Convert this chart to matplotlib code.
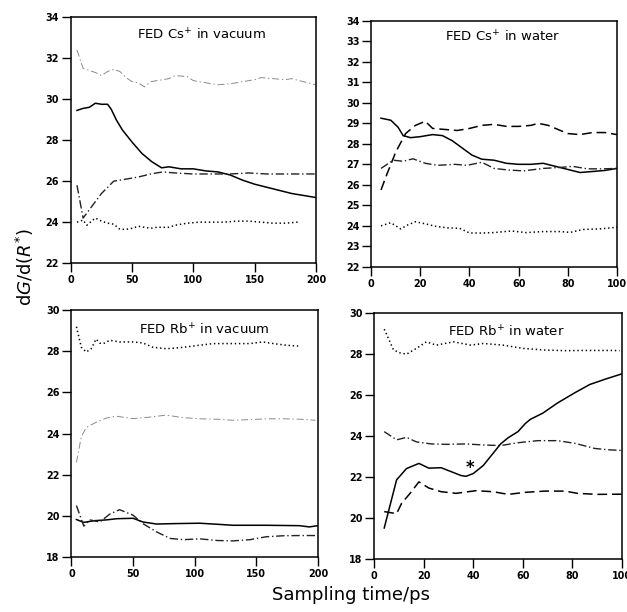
import matplotlib
matplotlib.use("Agg")
import matplotlib.pyplot as plt

plt.rcParams['font.family'] = ['DejaVu Sans']
plt.rcParams['lines.scale_dashes'] = False

# --- FED Cs+ in vacuum ---
cs_vac_solid_x = [5, 10, 15, 20, 25, 30, 33, 37, 42, 50, 58, 66, 74, 80, 90, 100, 110, 120, 130, 140, 150, 160, 170, 180, 190, 200]
cs_vac_solid_y = [29.45, 29.55, 29.6, 29.8, 29.75, 29.75, 29.5, 29.0, 28.5, 27.9, 27.35, 26.95, 26.65, 26.7, 26.6, 26.6, 26.5, 26.45, 26.3, 26.05, 25.85, 25.7, 25.55, 25.4, 25.3, 25.2]
cs_vac_dd_x = [5, 10, 15, 20, 25, 30, 35, 45, 55, 65, 75, 85, 100, 115, 130, 145, 160, 175, 190, 200]
cs_vac_dd_y = [25.8, 24.2, 24.6, 25.0, 25.4, 25.7, 26.0, 26.1, 26.2, 26.35, 26.45, 26.4, 26.35, 26.35, 26.35, 26.4, 26.35, 26.35, 26.35, 26.35]
cs_vac_grey_x = [5, 10, 15, 20, 25, 30, 35, 40, 45, 50, 55, 60, 65, 70, 80, 85, 95, 100, 110, 120, 130, 140, 150, 155, 165, 175, 180, 190, 200]
cs_vac_grey_y = [32.4, 31.5, 31.4, 31.3, 31.15, 31.35, 31.45, 31.35, 31.05, 30.85, 30.8, 30.6, 30.85, 30.9, 31.0, 31.15, 31.1, 30.9, 30.8, 30.7, 30.75, 30.85, 30.95, 31.05, 31.0, 30.95, 31.0, 30.85, 30.7]
cs_vac_dot_x = [5, 10, 13, 20, 25, 30, 35, 40, 45, 50, 55, 60, 65, 70, 80, 85, 95, 105, 115, 125, 135, 145, 155, 165, 175, 185]
cs_vac_dot_y = [24.0, 24.1, 23.85, 24.2, 24.05, 23.95, 23.9, 23.65, 23.65, 23.7, 23.8, 23.75, 23.7, 23.75, 23.75, 23.85, 23.95, 24.0, 24.0, 24.0, 24.05, 24.05, 24.0, 23.95, 23.95, 24.0]

# --- FED Cs+ in water ---
cs_wat_solid_x = [4, 8, 11, 13, 16, 20, 25, 29, 33, 37, 41, 45, 50, 55, 60, 65, 70, 75, 80, 85, 90, 95, 100]
cs_wat_solid_y = [29.25, 29.15, 28.8, 28.4, 28.3, 28.35, 28.45, 28.4, 28.15, 27.8, 27.45, 27.25, 27.2, 27.05, 27.0, 27.0, 27.05, 26.9, 26.75, 26.6, 26.65, 26.7, 26.8]
cs_wat_dash_x = [4, 6.5, 10, 14, 18, 22, 25, 30, 35, 40, 45, 50, 55, 60, 65, 68, 72, 76, 80, 85, 90, 95, 100]
cs_wat_dash_y = [25.75, 26.55, 27.6, 28.5, 28.9, 29.1, 28.75, 28.7, 28.65, 28.75, 28.9, 28.95, 28.85, 28.85, 28.9, 29.0, 28.9, 28.7, 28.5, 28.45, 28.55, 28.55, 28.45]
cs_wat_dd_x = [4, 9, 13, 17, 22, 27, 34, 39, 45, 50, 56, 62, 70, 77, 82, 88, 94, 100]
cs_wat_dd_y = [26.8, 27.2, 27.15, 27.27, 27.05, 26.95, 27.0, 26.95, 27.1, 26.8, 26.72, 26.68, 26.8, 26.85, 26.9, 26.78, 26.78, 26.8]
cs_wat_dot_x = [4, 8, 12, 15, 18, 22, 26, 31, 36, 40, 45, 50, 57, 63, 70, 77, 81, 86, 93, 100]
cs_wat_dot_y = [24.0, 24.15, 23.85, 24.05, 24.2, 24.1, 23.98, 23.9, 23.88, 23.65, 23.65, 23.67, 23.75, 23.67, 23.72, 23.72, 23.68, 23.82, 23.85, 23.93]

# --- FED Rb+ in vacuum ---
rb_vac_dot_x = [4, 8, 12, 16, 20, 23, 26, 31, 39, 50, 58, 66, 77, 88, 104, 115, 131, 145, 155, 164, 174, 184]
rb_vac_dot_y = [29.2, 28.2, 27.97, 28.13, 28.6, 28.4, 28.38, 28.54, 28.46, 28.46, 28.41, 28.2, 28.13, 28.18, 28.3, 28.38, 28.38, 28.38, 28.46, 28.38, 28.3, 28.26]
rb_vac_grey_x = [4, 8, 12, 20, 28, 36, 50, 63, 77, 90, 104, 118, 131, 145, 158, 174, 185, 198]
rb_vac_grey_y = [22.6, 23.85, 24.3, 24.55, 24.75, 24.85, 24.73, 24.8, 24.9, 24.78, 24.72, 24.7, 24.65, 24.68, 24.72, 24.72, 24.7, 24.65]
rb_vac_solid_x = [4, 10, 18, 28, 37, 50, 58, 69, 83, 104, 118, 131, 158, 185, 193, 200]
rb_vac_solid_y = [19.82, 19.68, 19.76, 19.8, 19.86, 19.88, 19.7, 19.6, 19.62, 19.64, 19.59, 19.54, 19.54, 19.52, 19.46, 19.52]
rb_vac_dd_x = [4, 10, 15, 23, 31, 39, 50, 58, 69, 80, 91, 104, 118, 131, 145, 158, 172, 185, 200]
rb_vac_dd_y = [20.5, 19.5, 19.8, 19.7, 20.08, 20.3, 20.03, 19.62, 19.22, 18.9, 18.84, 18.88, 18.8, 18.78, 18.84, 18.98, 19.03, 19.04, 19.04]

# --- FED Rb+ in water ---
rb_wat_dot_x = [4, 7.7, 10, 13, 17, 21, 25, 32, 39, 44, 52, 60, 69, 77, 85, 96, 99]
rb_wat_dot_y = [29.2, 28.2, 28.05, 27.98, 28.26, 28.58, 28.42, 28.58, 28.42, 28.5, 28.42, 28.26, 28.18, 28.15, 28.16, 28.16, 28.15]
rb_wat_dd_x = [4, 9, 13, 17, 23, 29, 37, 44, 51, 58, 66, 74, 81, 89, 94, 100]
rb_wat_dd_y = [24.2, 23.8, 23.92, 23.7, 23.6, 23.58, 23.6, 23.55, 23.52, 23.66, 23.76, 23.76, 23.63, 23.38, 23.32, 23.28]
rb_wat_solid_x = [4, 9, 13, 18, 22, 27, 31, 35, 37, 40, 44, 48, 51, 54, 58, 61, 63, 68, 74, 81, 87, 93, 100]
rb_wat_solid_y = [19.5, 21.85, 22.4, 22.65, 22.42, 22.44, 22.25, 22.06, 22.02, 22.16, 22.55, 23.15, 23.6, 23.9, 24.2, 24.6, 24.8, 25.1, 25.6, 26.1, 26.5, 26.75, 27.02]
rb_wat_dash_x = [4, 9, 11, 14.5, 18, 22, 27, 33, 41, 48, 54, 61, 69, 77, 82, 90, 100]
rb_wat_dash_y = [20.3, 20.2, 20.7, 21.2, 21.75, 21.45, 21.27, 21.19, 21.32, 21.27, 21.14, 21.24, 21.3, 21.3, 21.19, 21.14, 21.15]
star_x, star_y = 38.8, 22.45

titles = [r'FED Cs$^{+}$ in vacuum', r'FED Cs$^{+}$ in water',
          r'FED Rb$^{+}$ in vacuum', r'FED Rb$^{+}$ in water']

# line styles
solid = dict(color='black', lw=1.1, ls='-')
dash = dict(color='black', lw=1.1, dashes=(7, 3.5))
dashdot = dict(color='#222222', lw=1.0, dashes=(6, 2, 1, 2))
dot = dict(color='black', lw=1.1, dashes=(1, 2))
grey = dict(color='#8a8a8a', lw=0.7, dashes=(5, 2, 1, 2))

fig = plt.figure(figsize=(6.27, 6.12), dpi=100)
ax1 = fig.add_axes([0.113, 0.570, 0.391, 0.402])
ax2 = fig.add_axes([0.592, 0.564, 0.392, 0.402])
ax3 = fig.add_axes([0.114, 0.090, 0.393, 0.403])
ax4 = fig.add_axes([0.597, 0.087, 0.395, 0.402])

ax1.plot(cs_vac_grey_x, cs_vac_grey_y, **grey)
ax1.plot(cs_vac_solid_x, cs_vac_solid_y, **solid)
ax1.plot(cs_vac_dd_x, cs_vac_dd_y, **dashdot)
ax1.plot(cs_vac_dot_x, cs_vac_dot_y, **dot)

ax2.plot(cs_wat_solid_x, cs_wat_solid_y, **solid)
ax2.plot(cs_wat_dash_x, cs_wat_dash_y, **dash)
ax2.plot(cs_wat_dd_x, cs_wat_dd_y, **dashdot)
ax2.plot(cs_wat_dot_x, cs_wat_dot_y, **dot)

ax3.plot(rb_vac_dot_x, rb_vac_dot_y, **dot)
ax3.plot(rb_vac_grey_x, rb_vac_grey_y, **grey)
ax3.plot(rb_vac_solid_x, rb_vac_solid_y, **solid)
ax3.plot(rb_vac_dd_x, rb_vac_dd_y, **dashdot)

ax4.plot(rb_wat_dot_x, rb_wat_dot_y, **dot)
ax4.plot(rb_wat_dd_x, rb_wat_dd_y, **dashdot)
ax4.plot(rb_wat_solid_x, rb_wat_solid_y, **solid)
ax4.plot(rb_wat_dash_x, rb_wat_dash_y, **dash)
ax4.text(star_x, star_y, '*', fontsize=12, fontweight='bold', ha='center', va='center')

ax1.set_xlim(0, 200); ax1.set_ylim(22, 34)
ax1.set_xticks(range(0, 201, 50)); ax1.set_yticks(range(22, 35, 2))
ax2.set_xlim(0, 100); ax2.set_ylim(22, 34)
ax2.set_xticks(range(0, 101, 20)); ax2.set_yticks(range(22, 35, 1))
ax3.set_xlim(0, 200); ax3.set_ylim(18, 30)
ax3.set_xticks(range(0, 201, 50)); ax3.set_yticks(range(18, 31, 2))
ax4.set_xlim(0, 100); ax4.set_ylim(18, 30)
ax4.set_xticks(range(0, 101, 20)); ax4.set_yticks(range(18, 31, 2))

title_pos = [(0.535, 0.927), (0.535, 0.934), (0.538, 0.919), (0.532, 0.923)]
for ax, t, (tx, ty) in zip([ax1, ax2, ax3, ax4], titles, title_pos):
    ax.text(tx, ty, t, transform=ax.transAxes, ha='center', va='center', fontsize=9.5)
    for s in ax.spines.values():
        s.set_linewidth(1.1)
    ax.tick_params(direction='out', length=6.5, width=1.0, pad=2, labelsize=6.9)
    for lab in ax.get_xticklabels() + ax.get_yticklabels():
        lab.set_fontweight('bold')

fig.text(0.56, 0.0196, 'Sampling time/ps', ha='center', va='baseline', fontsize=13)
fig.text(0.04, 0.564, r'd$G$/d($R^{*}$)', rotation=90, ha='center', va='center', fontsize=13)

plt.savefig('out.png', dpi=100)
